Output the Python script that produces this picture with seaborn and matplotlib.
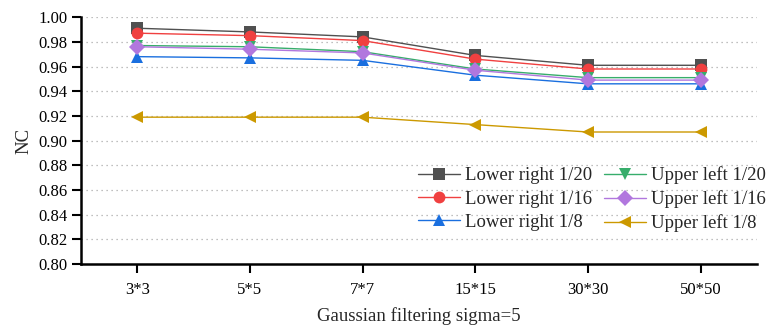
import matplotlib
matplotlib.use("Agg")
import matplotlib.pyplot as plt
import seaborn as sns
import pandas as pd

categories = ["3*3", "5*5", "7*7", "15*15", "30*30", "50*50"]
lower_right_20 = [0.991, 0.988, 0.984, 0.969, 0.961, 0.961]
lower_right_16 = [0.987, 0.985, 0.981, 0.966, 0.958, 0.958]
lower_right_8 = [0.968, 0.967, 0.965, 0.953, 0.946, 0.946]
upper_left_20 = [0.977, 0.976, 0.972, 0.958, 0.951, 0.951]
upper_left_16 = [0.976, 0.974, 0.971, 0.957, 0.949, 0.949]
upper_left_8 = [0.919, 0.919, 0.919, 0.913, 0.907, 0.907]

series = {
    "Lower right 1/20": lower_right_20,
    "Lower right 1/16": lower_right_16,
    "Lower right 1/8": lower_right_8,
    "Upper left 1/20": upper_left_20,
    "Upper left 1/16": upper_left_16,
    "Upper left 1/8": upper_left_8,
}
colors = ["#505050", "#f04040", "#1a6fdf", "#37ad6b", "#b177de", "#cc9900"]
markers = ["s", "o", "^", "v", "D", "<"]

rows = []
for name, vals in series.items():
    for i, (c, v) in enumerate(zip(categories, vals)):
        rows.append({"pos": i, "cat": c, "NC": v, "series": name})
df = pd.DataFrame(rows)

sns.set_style("ticks")
plt.rcParams["font.family"] = ["Liberation Serif", "DejaVu Serif"]

fig = plt.figure(figsize=(7.7, 3.29), dpi=100)
ax = fig.add_axes([0.105, 0.197, 0.878, 0.751])

sns.lineplot(data=df, x="pos", y="NC", hue="series", style="series",
             palette=colors, markers=markers, dashes=False, ax=ax,
             linewidth=1.0, markersize=8.5, markeredgewidth=0)

ax.set_xlim(-0.5, 5.5)
ax.set_ylim(0.80, 1.00)
ax.set_xticks(range(len(categories)))
ax.set_xticklabels(categories)
ax.set_yticks([0.80 + 0.02 * i for i in range(11)])
ax.set_yticklabels([f"{0.80 + 0.02 * i:.2f}" for i in range(11)])
ax.yaxis.grid(True, linestyle=(0, (1, 3)), color="#aaaaaa", linewidth=0.9)
ax.set_axisbelow(True)
ax.set_xlabel("Gaussian filtering sigma=5", fontsize=13.5, labelpad=7)
ax.set_ylabel("NC", fontsize=13.5, labelpad=4)
ax.tick_params(axis="both", labelsize=12, direction="out", length=6.5, width=1.5, colors="black")
ax.tick_params(axis="y", pad=3)
ax.tick_params(axis="x", pad=6)
for s in ["top", "right"]:
    ax.spines[s].set_visible(False)
for s in ["left", "bottom"]:
    ax.spines[s].set_linewidth(1.8)
    ax.spines[s].set_color("black")

handles, labels = ax.get_legend_handles_labels()
ax.legend(handles, labels, ncol=2, frameon=False, fontsize=13.5,
          loc="lower right", bbox_to_anchor=(1.038, 0.06),
          handlelength=2.24, columnspacing=0.6, handletextpad=0.27, labelspacing=0.33)

fig.savefig("out.png", dpi=100)
